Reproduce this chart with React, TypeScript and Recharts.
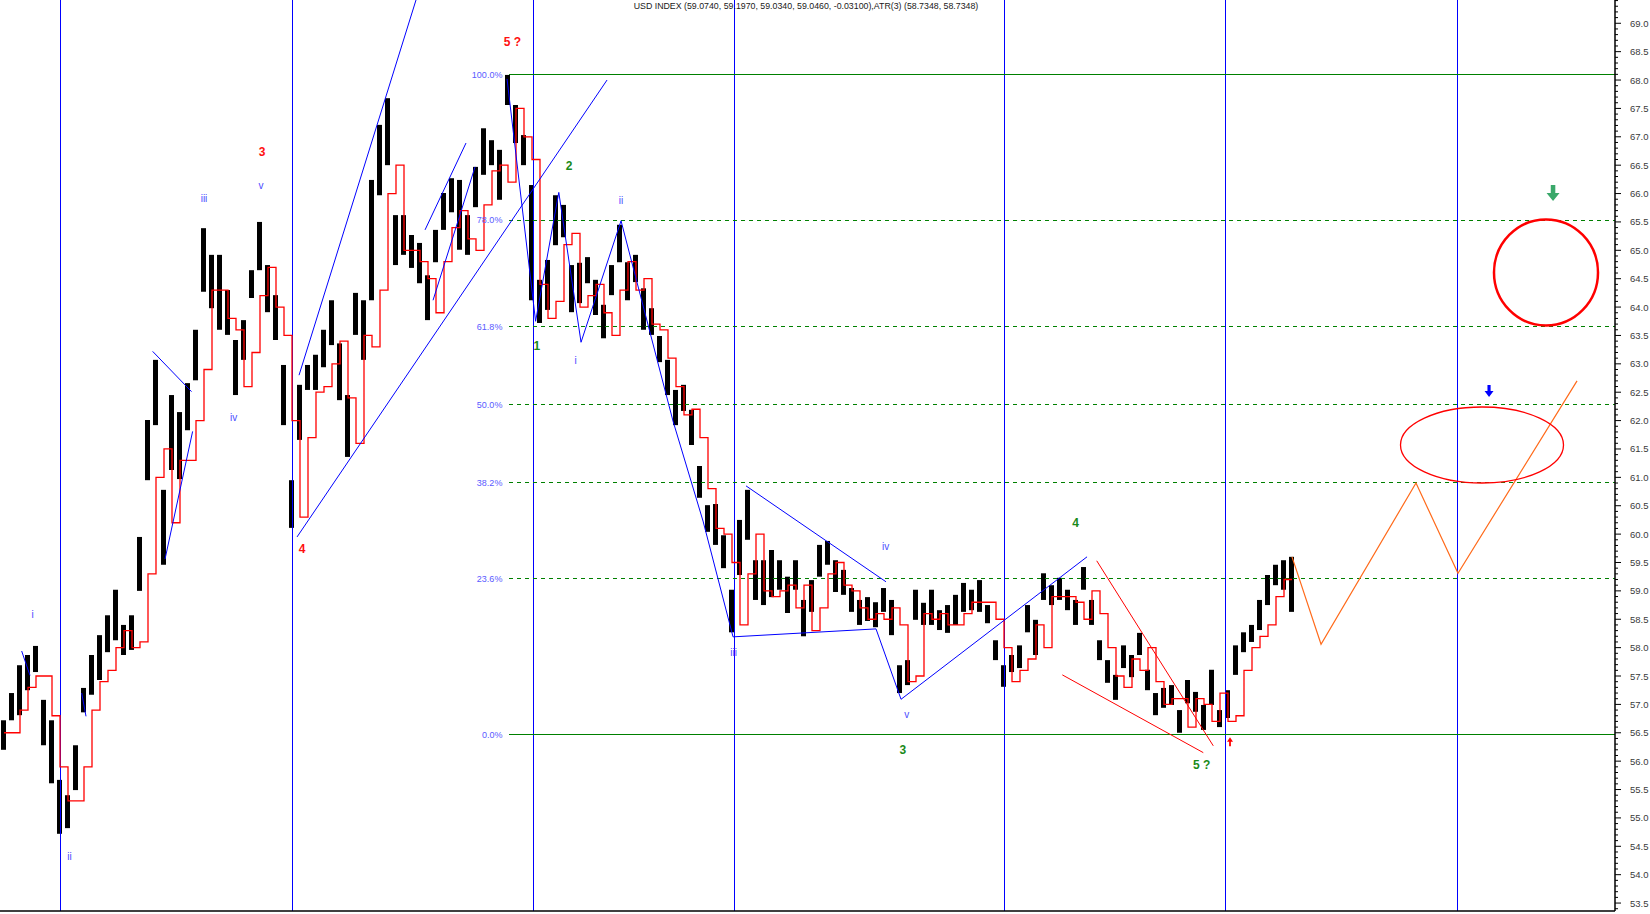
import React from 'react';
import { ComposedChart, Bar, Line, XAxis, YAxis, ReferenceLine, ReferenceDot } from 'recharts';

const HIGH = [
  56.72, 57.20, 57.69, 57.87, 58.03, 57.08, 56.72, 55.67, 55.40, 56.28,
  57.29, 57.87, 58.22, 58.57, 59.02, 58.40, 58.57, 59.95, 62.01, 63.07,
  60.78, 62.45, 62.15, 62.66, 63.60, 65.39, 64.92, 64.92, 64.30, 63.42,
  63.77, 64.65, 65.50, 64.74, 64.21, 62.98, 60.95, 62.63, 62.98, 63.16,
  63.60, 64.12, 63.36, 62.45, 64.25, 64.12, 66.24, 67.21, 67.68, 65.62,
  65.62, 65.27, 65.13, 64.56, 65.36, 66.01, 66.27, 66.24, 65.62, 66.47,
  67.15, 66.94, 66.77, 68.09, 67.56, 67.03, 66.15, 64.48, 64.83, 65.97,
  65.80, 64.74, 64.78, 64.88, 64.48, 64.04, 64.74, 65.45, 64.79, 64.92,
  64.33, 63.98, 63.49, 63.07, 62.54, 62.63, 62.19, 61.20, 60.51, 60.53,
  59.98, 59.02, 60.25, 60.78, 59.54, 59.54, 59.72, 59.54, 59.25, 59.54,
  58.84, 59.19, 59.81, 59.88, 59.54, 59.37, 59.05, 58.84, 58.89, 58.80,
  59.05, 58.84, 57.69, 57.78, 59.02, 58.79, 59.02, 58.66, 58.75, 58.93,
  59.14, 59.02, 59.19, 58.75, 58.13, 57.69, 57.87, 58.04, 58.75, 58.49,
  59.31, 59.10, 59.23, 59.02, 58.84, 59.42, 58.84, 58.13, 57.78, 57.52,
  58.04, 57.87, 58.26, 57.61, 57.20, 57.29, 57.34, 56.90, 57.43, 57.22,
  56.99, 57.61, 56.90, 57.25, 58.04, 58.27, 58.40, 58.84, 59.28, 59.46,
  59.54, 59.60,
];

const LOW = [
  56.20, 56.72, 56.81, 57.25, 57.57, 56.28, 55.61, 54.72, 54.82, 55.49,
  56.86, 57.17, 57.43, 57.92, 58.13, 57.87, 57.96, 59.00, 60.95, 61.92,
  59.46, 61.13, 60.97, 61.83, 62.71, 64.27, 63.98, 63.60, 63.51, 62.45,
  63.07, 64.16, 64.65, 63.91, 63.42, 61.92, 60.11, 61.66, 62.54, 62.54,
  62.94, 63.33, 62.36, 61.36, 63.51, 63.07, 64.12, 65.97, 66.50, 64.74,
  64.92, 64.69, 64.42, 63.77, 64.79, 65.36, 65.67, 65.01, 64.92, 65.76,
  66.33, 66.50, 65.89, 67.56, 66.89, 66.50, 64.12, 63.72, 63.95, 65.09,
  65.23, 63.91, 64.07, 64.42, 63.86, 63.45, 64.21, 64.79, 64.12, 64.44,
  63.60, 63.51, 63.03, 62.45, 61.92, 62.17, 61.57, 60.64, 60.04, 59.81,
  59.40, 58.27, 59.28, 59.90, 58.84, 58.75, 58.89, 59.02, 58.61, 59.02,
  58.20, 58.63, 59.25, 59.46, 58.98, 58.93, 58.63, 58.40, 58.47, 58.36,
  58.63, 58.22, 57.20, 57.34, 58.49, 58.40, 58.40, 58.31, 58.26, 58.40,
  58.63, 58.66, 58.63, 58.43, 57.78, 57.31, 57.57, 57.64, 58.27, 57.87,
  58.84, 58.75, 58.84, 58.66, 58.40, 59.02, 58.40, 57.78, 57.38, 57.08,
  57.64, 57.48, 57.87, 57.25, 56.81, 56.94, 56.99, 56.50, 57.02, 56.87,
  56.55, 56.99, 56.60, 56.76, 57.52, 57.92, 58.10, 58.31, 58.75, 59.10,
  59.02, 58.63,
];

const ATR_STOP = [
  56.5, 56.5, 56.9, 57.3, 57.5, 57.5, 56.8, 55.9, 55.3, 55.3,
  55.9, 56.9, 57.4, 57.6, 58.0, 58.3, 58.0, 58.1, 59.3, 61.0,
  61.5, 60.2, 61.3, 61.3, 62.0, 62.9, 64.3, 64.3, 63.8, 63.6,
  62.6, 63.2, 64.2, 64.7, 64.0, 63.5, 62.0, 60.3, 61.7, 62.5,
  62.6, 63.0, 63.4, 62.4, 61.6, 63.5, 63.3, 64.3, 66.0, 66.5,
  65.0, 65.0, 64.8, 64.5, 63.9, 64.8, 65.4, 65.7, 65.2, 65.0,
  65.8, 66.4, 66.5, 66.2, 67.5, 67.0, 66.6, 64.4, 63.8, 64.1,
  65.1, 65.3, 64.0, 64.2, 64.4, 63.9, 63.5, 64.3, 64.8, 64.3,
  64.5, 63.7, 63.6, 63.1, 62.6, 62.1, 62.2, 61.7, 60.8, 60.1,
  60.0, 59.5, 58.4, 59.3, 60.0, 59.0, 58.9, 59.0, 59.1, 58.7,
  59.1, 58.3, 58.7, 59.3, 59.5, 59.1, 59.0, 58.7, 58.5, 58.6,
  58.5, 58.7, 58.4, 57.4, 57.5, 58.6, 58.5, 58.6, 58.4, 58.4,
  58.6, 58.8, 58.8, 58.8, 58.5, 58.0, 57.4, 57.6, 57.8, 58.4,
  58.0, 58.9, 58.9, 58.9, 58.8, 58.5, 59.0, 58.6, 58.0, 57.5,
  57.3, 57.8, 57.6, 58.0, 57.4, 57.0, 57.1, 57.1, 56.6, 57.1,
  57.0, 56.7, 57.2, 56.7, 56.8, 57.6, 58.0, 58.2, 58.4, 58.9,
  59.2, 59.2,
];

const Y_TICKS_MAJOR = [
  53.5, 54.0, 54.5, 55.0, 55.5, 56.0, 56.5, 57.0, 57.5, 58.0, 58.5, 59.0, 59.5, 60.0,
  60.5, 61.0, 61.5, 62.0, 62.5, 63.0, 63.5, 64.0, 64.5, 65.0, 65.5, 66.0, 66.5, 67.0,
  67.5, 68.0, 68.5, 69.0,
];
const Y_MINOR_STEP = 0.1;
const Y_DOMAIN = [53.36, 69.41];
const X_DOMAIN = [-0.5, 201.375];
const MONTH_TICKS = [9.875, 20.625, 30.125, 40.375, 50.125, 59.5, 69.875, 80.25, 90, 100.125, 111, 121.125, 131.25, 141.875, 151.5, 161.75, 175, 188.25];

const CYCLE_LINES = [7, 36, 66.125, 91.25, 125, 152.625, 181.625];

const FIB_NAMES = ['100.0%', '78.0%', '61.8%', '50.0%', '38.2%', '23.6%', '0.0%'];
const FIB_VALUES = [68.09, 65.53, 63.65, 62.28, 60.91, 59.21, 56.47];
const FIB_SOLID = [true, false, false, false, false, false, true];
const FIB_START = 63.1;
const FIB_LABEL_X = 62.3;

// trend lines: [x1, y1, x2, y2]
const BLUE_SEGMENTS = [
  [2.21, 57.94, 3.25, 57.51],
  [9.71, 57.20, 10.25, 56.79],
  [18.58, 63.22, 23.44, 62.51],
  [20.13, 59.56, 23.58, 61.81],
  [36.88, 62.80, 51.5, 69.41],
  [36.63, 59.95, 75.38, 68.00],
  [52.63, 65.36, 57.75, 66.89],
  [53.63, 64.12, 58.88, 66.47],
  [62.88, 68.02, 66.45, 63.75],
  [66.45, 63.75, 69.35, 66.02],
  [69.35, 66.02, 72.13, 63.38],
  [72.13, 63.38, 77.13, 65.52],
  [77.13, 65.52, 83.63, 61.99],
  [83.63, 61.99, 87.38, 60.23],
  [87.38, 60.23, 91.13, 58.19],
  [92.75, 60.85, 110.25, 59.16],
  [91.13, 58.19, 109.0, 58.33],
  [109.0, 58.33, 112.13, 57.09],
  [112.13, 57.09, 135.38, 59.60],
];
const RED_SEGMENTS = [
  [136.59, 59.53, 151.16, 56.27],
  [132.29, 57.52, 149.91, 56.15],
];
const PROJ_X = [161, 164.63, 176.5, 181.75, 196.63];
const PROJ_Y = [59.60, 58.06, 60.90, 59.31, 62.70];

// wave labels
const WAVE_TEXT = ['5 ?', '3', '4', 'iii', 'v', 'iv', 'i', 'ii', '1', '2', 'ii', 'i', 'iii', 'iv', 'v', '3', '4', '5 ?'];
const WAVE_X = [63.56, 32.25, 37.25, 25, 32.13, 28.7, 3.58, 8.19, 66.59, 70.63, 77.13, 71.44, 91.21, 110.21, 112.84, 112.34, 133.96, 149.71];
const WAVE_Y = [68.67, 66.74, 59.75, 65.92, 66.15, 62.06, 58.58, 54.32, 63.31, 66.49, 65.88, 63.05, 57.91, 59.79, 56.82, 56.20, 60.20, 55.93];
const WAVE_KIND = ['red', 'red', 'red', 'blue', 'blue', 'blue', 'blue', 'blue', 'green', 'green', 'blue', 'blue', 'blue', 'blue', 'blue', 'green', 'green', 'green'];

const TITLE = 'USD INDEX (59.0740, 59.1970, 59.0340, 59.0460, -0.03100),ATR(3) (58.7348, 58.7348)';

const FONT = "Arial, 'Liberation Sans', sans-serif";

const data = HIGH.map((h, i) => ({ i, hi: h, lo: LOW[i], stop: ATR_STOP[i] }));
const projData = PROJ_X.map((x, k) => ({ i: x, p: PROJ_Y[k] }));

const yTicksAll: number[] = [];
for (let v = 53.4; v <= 69.41; v += Y_MINOR_STEP) yTicksAll.push(Math.round(v * 10) / 10);

const YTick = (props: any) => {
  const { x, y, payload } = props;
  const v = payload.value as number;
  const major = Y_TICKS_MAJOR.some((m) => Math.abs(m - v) < 1e-6);
  return (
    <g>
      <line x1={x} x2={x + (major ? 6 : 3)} y1={y} y2={y} stroke="#000" strokeWidth={1} />
      {major && (
        <text x={x + 15} y={y} dy={3.5} fontSize={9.5} fill="#3a3a3a" fontFamily={FONT}>
          {v.toFixed(1)}
        </text>
      )}
    </g>
  );
};

const WAVE_STYLE: Record<string, { fill: string; size: number; weight: string }> = {
  red: { fill: '#ff1010', size: 12, weight: 'bold' },
  green: { fill: '#1a8a1a', size: 12, weight: 'bold' },
  blue: { fill: '#4a4aff', size: 10, weight: 'normal' },
};

const textShape = (txt: string, fill: string, size: number, weight: string, anchor: string = 'middle') => (p: any) => (
  <text x={p.cx} y={p.cy} dy="0.35em" textAnchor={anchor} fontSize={size} fontWeight={weight} fill={fill} fontFamily={FONT}>
    {txt}
  </text>
);

const downArrow = (fill: string, w: number, h: number) => (p: any) => {
  const { cx, cy } = p;
  const shaft = w * 0.35;
  return (
    <polygon
      fill={fill}
      points={`${cx - shaft / 2},${cy - h / 2} ${cx + shaft / 2},${cy - h / 2} ${cx + shaft / 2},${cy} ${cx + w / 2},${cy} ${cx},${cy + h / 2} ${cx - w / 2},${cy} ${cx - shaft / 2},${cy}`}
    />
  );
};
const upArrow = (fill: string, w: number, h: number) => (p: any) => {
  const { cx, cy } = p;
  const shaft = Math.max(1.5, w * 0.3);
  return (
    <polygon
      fill={fill}
      points={`${cx - shaft / 2},${cy + h / 2} ${cx + shaft / 2},${cy + h / 2} ${cx + shaft / 2},${cy} ${cx + w / 2},${cy} ${cx},${cy - h / 2} ${cx - w / 2},${cy} ${cx - shaft / 2},${cy}`}
    />
  );
};
const ellipseShape = (rx: number, ry: number, stroke: string, sw: number) => (p: any) => (
  <ellipse cx={p.cx} cy={p.cy} rx={rx} ry={ry} fill="none" stroke={stroke} strokeWidth={sw} />
);

export default function App() {
  return (
    <div style={{ position: 'absolute', left: 0, top: 0, width: 1650, height: 914, background: '#fff' }}>
      <ComposedChart width={1650} height={914} data={data} margin={{ top: 0, right: 0, bottom: 0, left: 0 }}>
        <XAxis
          dataKey="i"
          type="number"
          domain={X_DOMAIN}
          allowDataOverflow
          ticks={MONTH_TICKS}
          tick={false}
          tickSize={3}
          height={3}
          axisLine={{ stroke: '#000', strokeWidth: 1.5 }}
          tickLine={{ stroke: '#000' }}
        />
        <YAxis
          orientation="right"
          type="number"
          domain={Y_DOMAIN}
          allowDataOverflow
          ticks={yTicksAll}
          interval={0}
          tick={<YTick />}
          tickLine={false}
          tickSize={0}
          tickMargin={0}
          width={35}
          axisLine={{ stroke: '#000', strokeWidth: 1.5 }}
        />

        {CYCLE_LINES.map((x, k) => (
          <ReferenceLine key={'c' + k} x={x} stroke="#0000ff" strokeWidth={1} shapeRendering="crispEdges" />
        ))}

        {FIB_VALUES.map((v, k) => (
          <ReferenceLine
            key={'f' + k}
            segment={[{ x: FIB_START, y: v }, { x: X_DOMAIN[1], y: v }]}
            stroke="#008000"
            strokeWidth={1}
            shapeRendering="crispEdges"
            strokeDasharray={FIB_SOLID[k] ? undefined : '4 4'}
            ifOverflow="hidden"
          />
        ))}
        {FIB_VALUES.map((v, k) => (
          <ReferenceDot key={'fl' + k} x={FIB_LABEL_X} y={v} r={0} shape={textShape(FIB_NAMES[k], '#5a5aff', 9, 'normal', 'end')} />
        ))}

        <Bar dataKey={(d: any) => [d.lo, d.hi]} fill="#000" barSize={5} isAnimationActive={false} />
        <Line type="stepAfter" dataKey="stop" stroke="#ff0000" strokeWidth={1.3} dot={false} activeDot={false} isAnimationActive={false} />

        {BLUE_SEGMENTS.map((s, k) => (
          <ReferenceLine key={'b' + k} segment={[{ x: s[0], y: s[1] }, { x: s[2], y: s[3] }]} stroke="#0000ff" strokeWidth={1} ifOverflow="hidden" />
        ))}
        {RED_SEGMENTS.map((s, k) => (
          <ReferenceLine key={'r' + k} segment={[{ x: s[0], y: s[1] }, { x: s[2], y: s[3] }]} stroke="#ff0000" strokeWidth={1} ifOverflow="hidden" />
        ))}
        <Line data={projData} dataKey="p" type="linear" stroke="#ff6a1a" strokeWidth={1.2} dot={false} activeDot={false} isAnimationActive={false} />

        {WAVE_TEXT.map((t, k) => {
          const st = WAVE_STYLE[WAVE_KIND[k]];
          return <ReferenceDot key={'w' + k} x={WAVE_X[k]} y={WAVE_Y[k]} r={0} shape={textShape(t, st.fill, st.size, st.weight)} />;
        })}

        <ReferenceDot x={192.75} y={64.61} r={0} shape={ellipseShape(52, 53, '#ff0000', 2.5)} />
        <ReferenceDot x={184.75} y={61.57} r={0} shape={ellipseShape(81.5, 38, '#ff0000', 1.3)} />
        <ReferenceDot x={193.63} y={66.01} r={0} shape={downArrow('#3aa86a', 13, 16)} />
        <ReferenceDot x={185.63} y={62.52} r={0} shape={downArrow('#0000ff', 9, 12)} />
        <ReferenceDot x={153.25} y={56.34} r={0} shape={upArrow('#ff0000', 6, 9)} />

        <ReferenceDot x={100.25} y={69.30} r={0} shape={textShape(TITLE, '#1a1a1a', 8.8, 'normal', 'middle')} />
      </ComposedChart>
    </div>
  );
}
